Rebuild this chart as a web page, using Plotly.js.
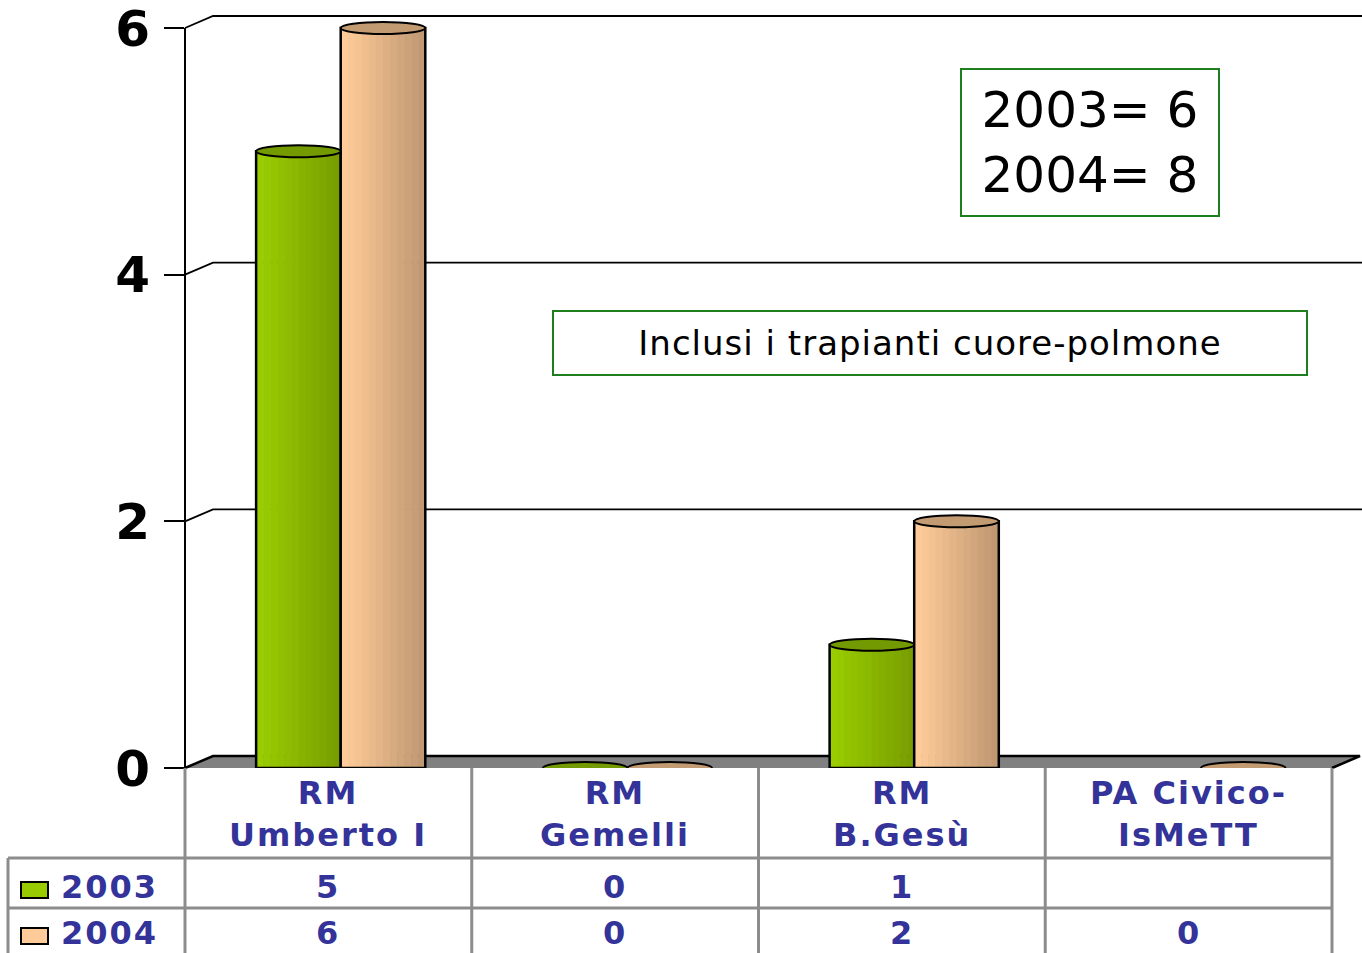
<!DOCTYPE html>
<html>
<head>
<meta charset="utf-8">
<script src="https://cdn.plot.ly/plotly-3.0.1.min.js"></script>
<style>
  html, body { margin: 0; padding: 0; background: #fff; }
  #grafico { width: 1362px; height: 953px; }
  g.annotation text { letter-spacing: 2px; }
  g.annotation[data-index="0"] text { letter-spacing: 0px; }
  g.annotation[data-index="1"] text { letter-spacing: 1px; }
</style>
</head>
<body>
<div id="grafico"></div>
<script>
// Dati del grafico
const categorie = ['RM<br>Umberto I', 'RM<br>Gemelli', 'RM<br>B.Gesù', 'PA Civico-<br>IsMeTT'];
const anni = ['2003', '2004'];
const valori2003 = [5, 0, 1, null];
const valori2004 = [6, 0, 2, 0];
const tickValori = [0, 2, 4, 6];
const totali = ['2003= 6', '2004= 8'];
const nota = 'Inclusi i trapianti cuore-polmone';

// Geometria della pagina (pixel)
const W = 1362, H = 953;
const M = { l: 185, r: 0, t: 16, b: 185 };
const plotW = W - M.l - M.r;   // 1177
const plotH = H - M.t - M.b;   // 752
const colW = 286.75;           // larghezza di una colonna della tabella
const xMin = -0.5;
const xMax = xMin + plotW / colW;
const yMax = 6 * plotH / 740;  // il 6 cade a 28px, lo 0 a 768px
const prof = 12;               // profondità 3D in pixel (verticale)
const profX = 28;              // profondità 3D in pixel (orizzontale)

const pxX = p => (p - M.l) / plotW;
const pxY = p => (M.t + plotH - p) / plotH;
const catX = v => (v - xMin) / (xMax - xMin);   // da asse x a paper
const capH = prof * yMax / plotH;

function mix(c1, c2, t) {
  const a = c1.match(/\w\w/g).map(h => parseInt(h, 16));
  const b = c2.match(/\w\w/g).map(h => parseInt(h, 16));
  const r = a.map((v, i) => Math.round(v + (b[i] - v) * t));
  return `rgb(${r[0]},${r[1]},${r[2]})`;
}

const serie = [
  { nome: anni[0], valori: valori2003, offset: -0.252, width: 0.295,
    chiaro: '9ACD00', scuro: '789E00', tappo: '739A00', legenda: '#99CC00' },
  { nome: anni[1], valori: valori2004, offset: 0.043, width: 0.295,
    chiaro: 'FFCC99', scuro: 'C09872', tappo: 'C29B72', legenda: '#FFCC99' }
];

const xIdx = categorie.map((c, i) => i);
const NSTRISCE = 12;
let datos = [];
let shapes = [];

// Pavimento grigio e pareti
shapes.push({
  type: 'path', xref: 'paper', yref: 'paper', layer: 'below',
  path: `M0,0 L${pxX(M.l + profX)},${pxY(768 - prof)} L${pxX(1360)},${pxY(768 - prof)} L${catX(3.5)},0 Z`,
  fillcolor: '#808080', line: { width: 0 }
});
shapes.push({
  type: 'path', xref: 'paper', yref: 'paper', layer: 'below',
  path: `M0,0 L${pxX(M.l + profX)},${pxY(768 - prof)} L${pxX(1360)},${pxY(768 - prof)} L${catX(3.5)},0`,
  line: { color: '#000', width: 2.5 }
});

// Griglia con la diagonale verso il fondo
tickValori.filter(v => v > 0).forEach(v => {
  const y0 = v / yMax;
  const y1 = y0 + prof / plotH;
  shapes.push({
    type: 'path', xref: 'paper', yref: 'paper', layer: 'below',
    path: `M0,${y0} L${pxX(M.l + profX)},${y1} L1,${y1}`,
    line: { color: '#000', width: 1.8 }
  });
});

// Asse verticale
shapes.push({
  type: 'line', xref: 'paper', yref: 'paper', layer: 'above',
  x0: 0, x1: 0, y0: 0, y1: 6 / yMax,
  line: { color: '#000', width: 2 }
});

// Cilindri: strisce sfumate + contorno + tappo
serie.forEach(s => {
  for (let k = 0; k < NSTRISCE; k++) {
    datos.push({
      type: 'bar', x: xIdx, y: s.valori,
      offset: s.offset + k * s.width / NSTRISCE,
      width: s.width / NSTRISCE + 0.002,
      marker: { color: mix(s.chiaro, s.scuro, k / (NSTRISCE - 1)), line: { width: 0 } },
      hoverinfo: 'skip', showlegend: false
    });
  }
  datos.push({
    type: 'bar', x: xIdx, y: s.valori, name: s.nome,
    offset: s.offset, width: s.width,
    marker: { color: 'rgba(0,0,0,0)', line: { color: '#000', width: 2.5 } },
    showlegend: false
  });
  s.valori.forEach((v, i) => {
    if (v === null) return;
    shapes.push({
      type: 'circle', xref: 'x', yref: 'y', layer: 'above',
      x0: i + s.offset, x1: i + s.offset + s.width,
      y0: v - capH / 2, y1: v + capH / 2,
      fillcolor: '#' + s.tappo, line: { color: '#000', width: 2 }
    });
  });
});

// Tabella dei dati sotto il grafico
const grigio = { color: '#8c8c8c', width: 3 };
const righe = [858, 908];
righe.forEach(r => {
  shapes.push({ type: 'line', xref: 'paper', yref: 'paper', x0: pxX(8), x1: catX(3.5),
    y0: pxY(r), y1: pxY(r), line: grigio });
});
[-0.5, 0.5, 1.5, 2.5, 3.5].forEach(b => {
  shapes.push({ type: 'line', xref: 'paper', yref: 'paper', x0: catX(b), x1: catX(b),
    y0: 0, y1: pxY(H + 5), line: grigio });
});
shapes.push({ type: 'line', xref: 'paper', yref: 'paper', x0: pxX(8), x1: pxX(8),
  y0: pxY(858), y1: pxY(H + 5), line: grigio });

// Quadratini della legenda
const legendaY = [[882, 898], [928, 944]];
serie.forEach((s, j) => {
  shapes.push({ type: 'rect', xref: 'paper', yref: 'paper',
    x0: pxX(21), x1: pxX(48), y0: pxY(legendaY[j][1]), y1: pxY(legendaY[j][0]),
    fillcolor: s.legenda, line: { color: '#000', width: 2 } });
});

const blu = '#333399';
const fontTab = { family: 'DejaVu Sans', size: 32, color: blu, weight: 'bold' };

let annotations = [
  {
    xref: 'paper', yref: 'paper', x: pxX(960), y: pxY(68),
    xanchor: 'left', yanchor: 'top', showarrow: false,
    text: totali.join('<br>'), align: 'center',
    font: { family: 'DejaVu Sans', size: 50, color: '#000' },
    bordercolor: '#1f7f1f', borderwidth: 2, borderpad: 10, bgcolor: '#fff',
    width: 236, height: 125
  },
  {
    xref: 'paper', yref: 'paper', x: pxX(552), y: pxY(310),
    xanchor: 'left', yanchor: 'top', showarrow: false,
    text: nota, align: 'center',
    font: { family: 'DejaVu Sans', size: 34, color: '#000' },
    bordercolor: '#1f7f1f', borderwidth: 2, borderpad: 8, bgcolor: '#fff',
    width: 736, height: 46
  }
];

categorie.forEach((c, i) => {
  annotations.push({ xref: 'x', yref: 'paper', x: i, y: pxY(814), yanchor: 'middle',
    text: c, showarrow: false, font: fontTab });
});
const rigaY = [887, 933];
serie.forEach((s, j) => {
  s.valori.forEach((v, i) => {
    annotations.push({ xref: 'x', yref: 'paper', x: i, y: pxY(rigaY[j]), yanchor: 'middle',
      text: v === null ? '' : String(v), showarrow: false, font: fontTab });
  });
  annotations.push({ xref: 'paper', yref: 'paper', x: pxX(63), y: pxY(rigaY[j]),
    xanchor: 'left', yanchor: 'middle', text: s.nome, showarrow: false, font: fontTab });
});

let layout = {
  width: W, height: H,
  margin: M,
  paper_bgcolor: '#fff', plot_bgcolor: '#fff',
  barmode: 'overlay',
  showlegend: false,
  xaxis: {
    range: [xMin, xMax], showgrid: false, zeroline: false, showline: false,
    showticklabels: false, ticks: '', fixedrange: true
  },
  yaxis: {
    range: [0, yMax], showgrid: false, zeroline: false, showline: false,
    tickvals: tickValori, ticks: 'outside', ticklen: 20, tickwidth: 2, tickcolor: '#000',
    ticklabelstandoff: 4, ticklabeloverflow: 'allow',
    tickfont: { family: 'DejaVu Sans', size: 50, color: '#000', weight: 'bold' },
    fixedrange: true
  },
  shapes: shapes,
  annotations: annotations
};

Plotly.newPlot('grafico', datos, layout, { displayModeBar: false, staticPlot: true });
</script>
</body>
</html>
